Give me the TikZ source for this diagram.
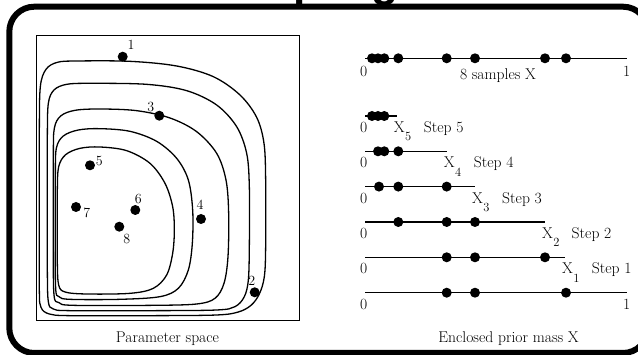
\documentclass[tikz,border=0pt]{standalone}
\usepackage{fontspec}
\newfontfamily\titlefont{Liberation Sans}
\newcommand{\Xsub}[1]{X\kern0.3pt\raisebox{-8.3pt}{\fontsize{12.5}{12.5}\selectfont #1}}
\begin{document}
\begin{tikzpicture}[x=1pt,y=-1pt,
  dot/.style={circle,fill=black,inner sep=0pt,minimum size=10pt},
  num/.style={font=\fontsize{14}{14}\selectfont,inner sep=0pt},
  lbl/.style={font=\fontsize{15.6}{18}\selectfont,inner sep=0pt,anchor=base},
  lblw/.style={font=\fontsize{15.6}{18}\selectfont,inner sep=0pt,anchor=base west},
  contour/.style={line width=1.3pt},
  axis/.style={line width=1.3pt}]
\useasboundingbox (0,0) rectangle (638,355);

% title (mostly outside the picture)
\node[anchor=base east,inner sep=0pt,font=\titlefont\bfseries\fontsize{44.3}{46}\selectfont] (title) at (399.2,-3) {Nested Sampling};

% frame
\draw[line width=6pt,rounded corners=25pt] (9.3,6.7) rectangle (648,353);

% parameter space box
\draw[line width=1pt] (36,36) rectangle (299,321);

\begin{scope}[shift={(20,30)},scale=0.333333]
\draw[contour] plot[smooth cycle,tension=0.55] coordinates {(58,300) (61,170) (78,118) (112,97) (170,93) (330,94) (470,108) (580,140) (660,195) (710,262) (732,340) (737,450) (737,650) (733,740) (718,792) (693,826) (655,846) (590,855) (400,857) (150,857) (88,852) (63,832) (58,780) (58,550)};
\draw[contour] plot[smooth cycle,tension=0.55] coordinates {(82,320) (85,220) (102,180) (140,163) (210,160) (380,163) (500,182) (590,225) (650,290) (680,370) (688,470) (688,650) (685,750) (673,800) (645,830) (590,840) (400,842) (150,842) (100,837) (85,815) (82,720) (82,500)};
\draw[contour] plot[smooth cycle,tension=0.55] coordinates {(100,380) (103,295) (122,258) (165,241) (240,237) (350,242) (450,264) (530,305) (590,370) (618,450) (626,550) (624,680) (612,760) (585,805) (530,822) (400,826) (160,826) (117,818) (102,795) (100,650)};
\draw[contour] plot[smooth cycle,tension=0.55] coordinates {(106,440) (109,355) (130,318) (175,300) (240,296) (330,304) (410,334) (470,385) (505,450) (518,540) (517,640) (505,720) (475,775) (420,800) (300,808) (150,808) (117,800) (107,775) (106,620)};
\draw[contour] plot[smooth cycle,tension=0.55] coordinates {(112,480) (116,410) (137,374) (180,355) (240,351) (320,362) (390,400) (435,460) (458,530) (463,600) (458,670) (440,735) (400,775) (330,790) (200,792) (135,786) (116,765) (112,700) (112,600)};
\end{scope}

% sample points in parameter space
\node[dot] (p1) at (122.7,56.7) {};  \node[num] (l1) at (131,45) {1};
\node[dot] (p2) at (254.7,292.3) {}; \node[num] (l2) at (251.7,280.7) {2};
\node[dot] (p3) at (159.3,115.7) {}; \node[num] (l3) at (150.7,106.7) {3};
\node[dot] (p4) at (201,219) {};     \node[num] (l4) at (200,205) {4};
\node[dot] (p5) at (90,165.3) {};    \node[num] (l5) at (99.3,160.7) {5};
\node[dot] (p6) at (135.3,210) {};   \node[num] (l6) at (138.3,199.3) {6};
\node[dot] (p7) at (76,207) {};      \node[num] (l7) at (86.7,213) {7};
\node[dot] (p8) at (119.3,226.7) {}; \node[num] (l8) at (126.7,238.7) {8};

\node[lbl] (ps) at (167.5,342.7) {Parameter space};

% ---- right panel: enclosed prior mass ----
% top row: 8 samples
\coordinate (a0) at (365,58.3); \coordinate (a1) at (627.3,58.3);
\draw[axis] (a0) -- (a1);
\foreach \x [count=\i] in {372,378,384.3,398.3,446.7,475,545,566}
  \node[dot] (ta\i) at (\x,58.3) {};
\node[lbl] (a0l) at (363.8,76.7) {0};
\node[lbl] (a1l) at (626.7,76.7) {1};
\node[lbl] (samp) at (498,79.3) {8 samples X};

% step 5
\coordinate (s5a) at (365,116); \coordinate (s5b) at (396.7,116);
\draw[axis] (s5a) -- (s5b);
\foreach \x [count=\i] in {372,378,384.3}
  \node[dot] (d5\i) at (\x,116) {};
\node[lbl] (z5) at (363.8,132.5) {0};
\node[lblw] (x5) at (393.7,132.5) {\Xsub{5}};
\node[lblw] (st5) at (423.7,132.5) {Step 5};

% step 4
\coordinate (s4a) at (365,151.3); \coordinate (s4b) at (446.7,151.3);
\draw[axis] (s4a) -- (s4b);
\foreach \x [count=\i] in {378,384.3,398.3}
  \node[dot] (d4\i) at (\x,151.3) {};
\node[lbl] (z4) at (363.8,168) {0};
\node[lblw] (x4) at (443.7,168) {\Xsub{4}};
\node[lblw] (st4) at (473.7,168) {Step 4};

% step 3
\coordinate (s3a) at (365,186.6); \coordinate (s3b) at (475,186.6);
\draw[axis] (s3a) -- (s3b);
\foreach \x [count=\i] in {379,398.3,446.7}
  \node[dot] (d3\i) at (\x,186.6) {};
\node[lbl] (z3) at (363.8,203.3) {0};
\node[lblw] (x3) at (472,203.3) {\Xsub{3}};
\node[lblw] (st3) at (502,203.3) {Step 3};

% step 2
\coordinate (s2a) at (365,222); \coordinate (s2b) at (545,222);
\draw[axis] (s2a) -- (s2b);
\foreach \x [count=\i] in {398.3,446.7,475}
  \node[dot] (d2\i) at (\x,222) {};
\node[lbl] (z2) at (363.8,238.7) {0};
\node[lblw] (x2) at (542,238.7) {\Xsub{2}};
\node[lblw] (st2) at (571.5,238.7) {Step 2};

% step 1
\coordinate (s1a) at (365,257.3); \coordinate (s1b) at (565,257.3);
\draw[axis] (s1a) -- (s1b);
\foreach \x [count=\i] in {446.7,475,545}
  \node[dot] (d1\i) at (\x,257.3) {};
\node[lbl] (z1) at (363.8,274) {0};
\node[lblw] (x1) at (562,274) {\Xsub{1}};
\node[lblw] (st1) at (591.7,274) {Step 1};

% bottom row
\coordinate (b0) at (365,292.7); \coordinate (b1) at (627.3,292.7);
\draw[axis] (b0) -- (b1);
\foreach \x [count=\i] in {446.7,475,566}
  \node[dot] (db\i) at (\x,292.7) {};
\node[lbl] (b0l) at (363.8,309.3) {0};
\node[lbl] (b1l) at (626.7,309.3) {1};

\node[lbl] (epm) at (508.5,342.7) {Enclosed prior mass X};
\end{tikzpicture}
\end{document}
